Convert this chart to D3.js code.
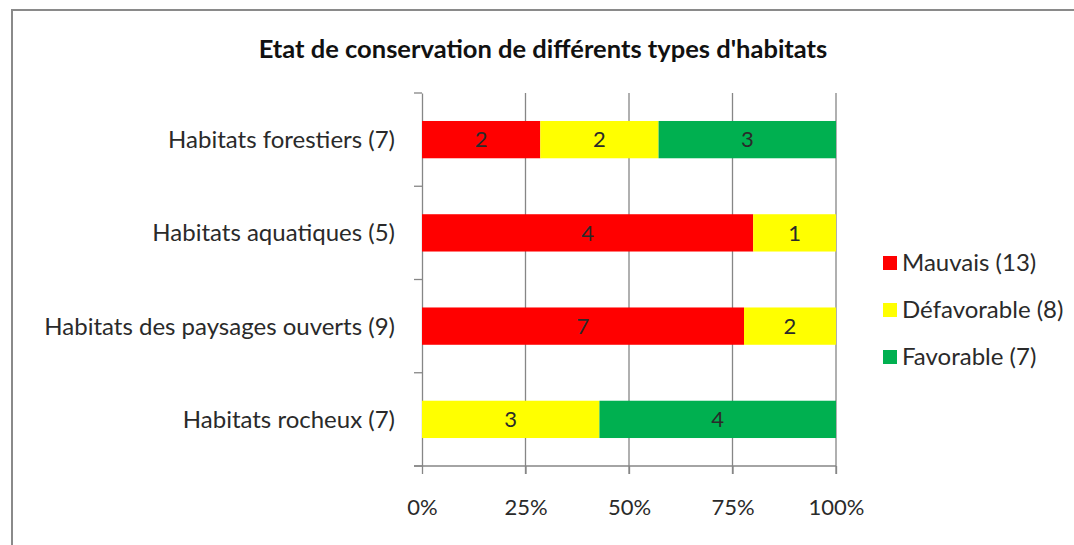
<!DOCTYPE html>
<html><head><meta charset="utf-8">
<script src="https://cdn.jsdelivr.net/npm/d3@7"></script>
<style>body{margin:0;background:#fff;} svg{display:block;}</style>
</head><body>
<svg id="c" width="1074" height="545"></svg>
<script>
const title = "Etat de conservation de différents types d'habitats";
const categories = ["Habitats forestiers (7)", "Habitats aquatiques (5)", "Habitats des paysages ouverts (9)", "Habitats rocheux (7)"];
const seriesNames = ["Mauvais (13)", "Défavorable (8)", "Favorable (7)"];
const mauvais = [2, 4, 7, 0];
const defavorable = [2, 1, 2, 3];
const favorable = [3, 0, 0, 4];
const colors = ["#FF0000", "#FFFF00", "#00B050"];
const tickValues = [0, 0.25, 0.5, 0.75, 1];
const tickLabels = ["0%", "25%", "50%", "75%", "100%"];

const font = "Lato, 'Open Sans', sans-serif";
const txt = "#2a2a2a";
const svg = d3.select("#c");
svg.append("rect").attr("x", 12).attr("y", 10).attr("width", 1080).attr("height", 560)
  .attr("fill", "#fff").attr("stroke", "#8a8a8a").attr("stroke-width", 2);

svg.append("text").attr("x", 543).attr("y", 58).attr("text-anchor", "middle")
  .attr("font-family", font).attr("font-weight", "bold").attr("font-size", 25.5).attr("fill", "#111")
  .text(title);

const x = d3.scaleLinear().domain([0, 1]).range([422, 836]);
const y = d3.scaleBand().domain(categories).range([93, 466]).paddingInner(0.6).paddingOuter(0.3);
const yb = d3.scaleBand().domain(categories).range([93, 466]);

const data = categories.map((c, i) => {
  const vals = [mauvais[i], defavorable[i], favorable[i]];
  const tot = d3.sum(vals);
  return {c, vals, tot};
});
const stacked = d3.stack().keys([0, 1, 2]).value((d, k) => d.vals[k] / d.tot)(data);

// gridlines
const g = svg.append("g");
g.selectAll("line.grid").data(tickValues.slice(1)).join("line")
  .attr("x1", d => x(d)).attr("x2", d => x(d)).attr("y1", 93).attr("y2", 474)
  .attr("stroke", "#868686").attr("stroke-width", 1.3);

// x axis
const xAxis = d3.axisBottom(x).tickValues(tickValues).tickFormat((d, i) => tickLabels[i]).tickSize(8).tickSizeOuter(0);
const xa = svg.append("g").attr("transform", "translate(0,466)").call(xAxis);
xa.select(".domain").remove();
xa.append("line").attr("x1", 414).attr("x2", 836).attr("y1", 0).attr("y2", 0).attr("stroke", "#868686").attr("stroke-width", 1.3);
xa.selectAll(".tick line").attr("stroke", "#868686").attr("stroke-width", 1.3);
xa.selectAll(".tick text").attr("font-family", font).attr("font-size", 22).attr("fill", txt).attr("dy", "0.71em").attr("y", 33);

// y axis
const yAxis = d3.axisLeft(yb).tickSize(0).tickFormat("");
const ya = svg.append("g").attr("transform", "translate(422,0)").call(yAxis);
ya.select(".domain").attr("stroke", "#868686").attr("stroke-width", 1.3);
ya.selectAll(".tick").remove();
const bounds = [93, ...categories.map(c => yb(c) + yb.bandwidth())];
ya.selectAll("line.yt").data(bounds).join("line")
  .attr("x1", -8).attr("x2", 0).attr("y1", d => d).attr("y2", d => d)
  .attr("stroke", "#868686").attr("stroke-width", 1.3);

// bars
const bars = svg.append("g");
stacked.forEach((s, k) => {
  bars.selectAll(null).data(s.filter(d => d[1] > d[0])).join("rect")
    .attr("x", d => x(d[0])).attr("width", d => x(d[1]) - x(d[0]))
    .attr("y", d => y(d.data.c)).attr("height", y.bandwidth())
    .attr("fill", colors[k]);
  bars.selectAll(null).data(s.filter(d => d[1] > d[0])).join("text")
    .attr("x", d => (x(d[0]) + x(d[1])) / 2).attr("y", d => y(d.data.c) + y.bandwidth() / 2)
    .attr("dy", "0.35em").attr("text-anchor", "middle")
    .attr("font-family", font).attr("font-size", 22).attr("fill", txt)
    .text(d => d.data.vals[k]);
});

// category labels
svg.selectAll("text.cat").data(categories).join("text")
  .attr("x", 395).attr("y", d => yb(d) + yb.bandwidth() / 2).attr("dy", "0.35em")
  .attr("text-anchor", "end").attr("font-family", font).attr("font-size", 24).attr("fill", txt)
  .text(d => d);

// legend
const lg = svg.append("g");
seriesNames.forEach((n, i) => {
  const cy = 263 + i * 47;
  lg.append("rect").attr("x", 883).attr("y", cy - 7).attr("width", 14).attr("height", 14).attr("fill", colors[i]);
  lg.append("text").attr("x", 902).attr("y", cy).attr("dy", "0.35em")
    .attr("font-family", font).attr("font-size", 24).attr("fill", txt).text(n);
});
</script>
</body></html>
